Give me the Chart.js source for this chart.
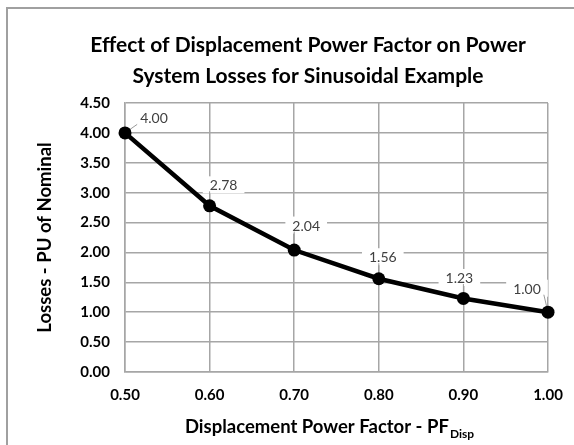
<!DOCTYPE html>
<html>
<head>
<meta charset="utf-8">
<script src="https://cdn.jsdelivr.net/npm/chart.js"></script>
<style>
  html, body { margin: 0; padding: 0; background: #fff; overflow: hidden; }
  canvas { display: block; }
</style>
</head>
<body>
<canvas id="chart" width="616" height="445"></canvas>
<script>
// Данные графика
const powerFactor = [0.5, 0.6, 0.7, 0.8, 0.9, 1.0]
const losses = [4.00, 2.78, 2.04, 1.56, 1.23, 1.00]
const xTicks = [0.5, 0.6, 0.7, 0.8, 0.9, 1.0]
const yTicks = [0, 0.5, 1, 1.5, 2, 2.5, 3, 3.5, 4, 4.5]

// Смещения подписей от точек (стиль, не данные)
const labelOffsets = [[29, -15], [14, -21], [12, -25], [4, -22], [-4, -21], [-21, -24]]

const gridColor = '#a6a6a6'
const font = 'Lato, "Open Sans", sans-serif'

// Рамка вокруг всего графика + центрирование заголовка по всей рамке
const framePlugin = {
  id: 'frame',
  afterLayout(chart) {
    const t = chart.titleBlock
    if (t) { t.left = 0; t.right = 616; t.width = 616 }
  },
  beforeDraw(chart) {
    const ctx = chart.ctx
    ctx.save()
    ctx.strokeStyle = '#a0a0a0'
    ctx.lineWidth = 2
    ctx.strokeRect(7, 8, 602, 500)
    ctx.restore()
  }
}

// Подписи значений с выносками
const labelPlugin = {
  id: 'valueLabels',
  beforeDatasetsDraw(chart) {
    const ctx = chart.ctx
    const meta = chart.getDatasetMeta(0)
    ctx.save()
    ctx.font = '14px ' + font
    ctx.textAlign = 'center'
    ctx.textBaseline = 'middle'
    meta.data.forEach((pt, i) => {
      const text = losses[i].toFixed(2)
      const [dx, dy] = labelOffsets[i]
      const cx = pt.x + dx, cy = pt.y + dy
      const w = ctx.measureText(text).width + 14
      const h = 17
      const left = cx - w / 2, right = cx + w / 2, bottom = cy + h / 2
      ctx.fillStyle = '#fff'
      ctx.fillRect(left, cy - h / 2, w, h)
      const ax = Math.min(Math.max(pt.x, left + 4), right - 4)
      ctx.strokeStyle = '#9a9a9a'
      ctx.lineWidth = 1
      ctx.beginPath()
      ctx.moveTo(pt.x, pt.y)
      ctx.lineTo(ax, bottom - 2)
      ctx.stroke()
      ctx.fillStyle = '#404040'
      ctx.fillText(text, cx, cy + 1)
    })
    ctx.restore()
  }
}

// Подпись оси X с нижним индексом
const xTitlePlugin = {
  id: 'xTitle',
  afterDraw(chart) {
    const ctx = chart.ctx
    const main = 'Displacement Power Factor - PF'
    const sub = 'Disp'
    ctx.save()
    ctx.fillStyle = '#000'
    ctx.textBaseline = 'alphabetic'
    ctx.textAlign = 'left'
    ctx.font = 'bold 18.5px ' + font
    const w1 = ctx.measureText(main).width
    ctx.font = 'bold 12px ' + font
    const w2 = ctx.measureText(sub).width
    const x0 = 329 - (w1 + w2) / 2
    const y = 433
    ctx.font = 'bold 18.5px ' + font
    ctx.fillText(main, x0, y)
    ctx.font = 'bold 12px ' + font
    ctx.fillText(sub, x0 + w1 + 1, y + 5)
    ctx.restore()
  }
}

new Chart(document.getElementById('chart'), {
  type: 'line',
  data: {
    datasets: [{
      data: powerFactor.map((x, i) => ({ x: x, y: losses[i] })),
      borderColor: '#000',
      borderWidth: 4.5,
      pointRadius: 6.5,
      pointBackgroundColor: '#000',
      pointBorderWidth: 0,
      tension: 0,
      clip: false
    }]
  },
  options: {
    responsive: false,
    animation: false,
    devicePixelRatio: 1,
    layout: { padding: { left: 0, right: 68, top: 0, bottom: 0 } },
    plugins: {
      legend: { display: false },
      tooltip: { enabled: false },
      title: {
        display: true,
        text: ['Effect of Displacement Power Factor on Power', 'System Losses for Sinusoidal Example'],
        color: '#000',
        font: { family: font, size: 21, weight: 'bold', lineHeight: 1.476 },
        padding: { top: 29.5, bottom: 11.5 }
      }
    },
    scales: {
      x: {
        type: 'linear',
        min: 0.5,
        max: 1.0,
        afterBuildTicks: s => { s.ticks = xTicks.map(v => ({ value: v })) },
        afterFit: s => { s.height = 73 },
        grid: { color: gridColor, lineWidth: 1.5, drawTicks: false },
        border: { color: gridColor, width: 1.5 },
        ticks: {
          color: '#000',
          padding: 14,
          font: { family: font, size: 15, weight: 'bold' },
          callback: v => Number(v).toFixed(2)
        }
      },
      y: {
        min: 0,
        max: 4.5,
        afterBuildTicks: s => { s.ticks = yTicks.map(v => ({ value: v })) },
        afterFit: s => { s.width = 125 },
        grid: { color: gridColor, lineWidth: 1.5, drawTicks: false },
        border: { color: gridColor, width: 1.5 },
        ticks: {
          color: '#000',
          padding: 15,
          font: { family: font, size: 15, weight: 'bold' },
          callback: v => Number(v).toFixed(2)
        },
        title: {
          display: true,
          text: 'Losses - PU of Nominal',
          color: '#000',
          font: { family: font, size: 18.5, weight: 'bold', lineHeight: 1.2 },
          padding: { top: 34, bottom: 0 }
        }
      }
    }
  },
  plugins: [framePlugin, labelPlugin, xTitlePlugin]
})
</script>
</body>
</html>
